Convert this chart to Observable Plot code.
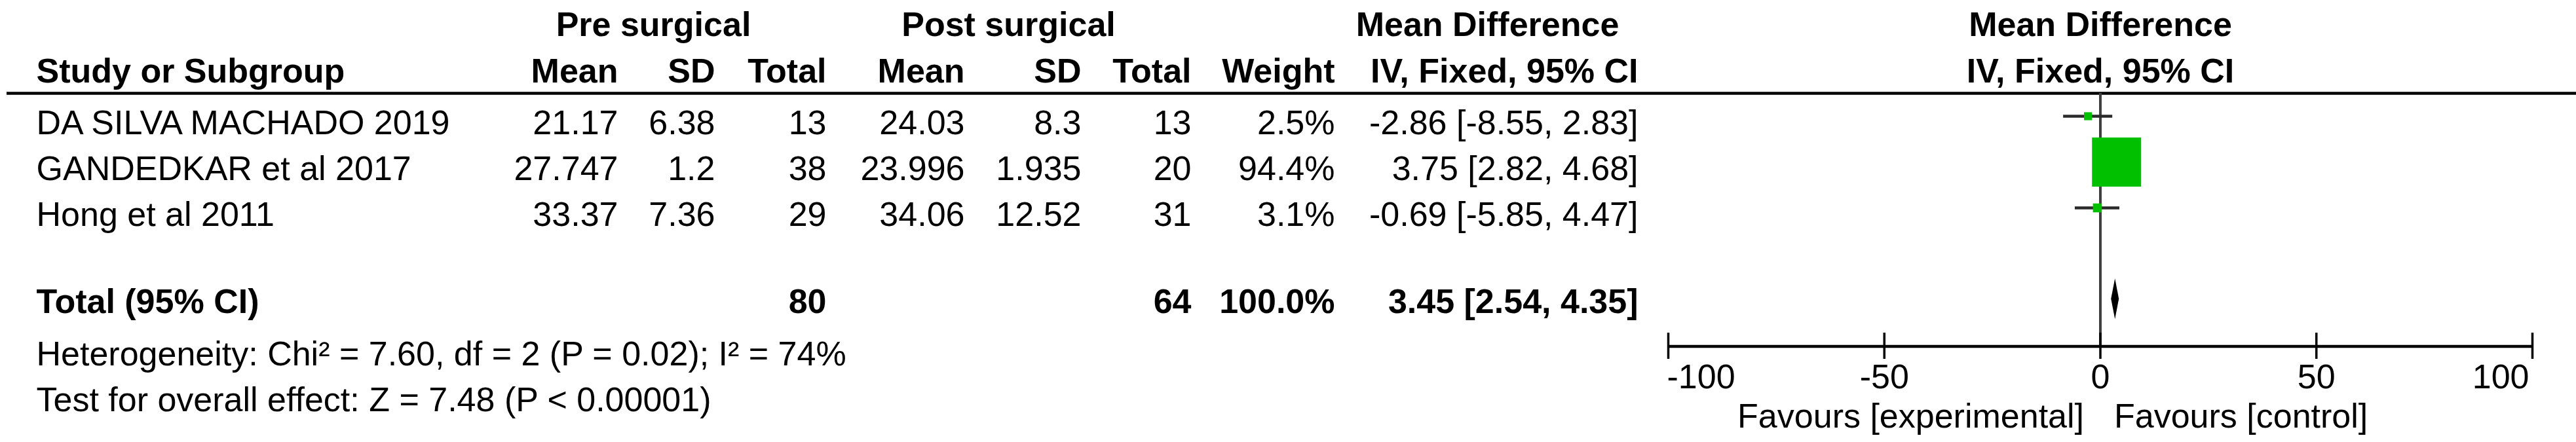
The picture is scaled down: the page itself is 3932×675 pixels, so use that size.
<!DOCTYPE html>
<html><head><meta charset="utf-8">
<script src="https://cdn.jsdelivr.net/npm/d3@7"></script>
<script src="https://cdn.jsdelivr.net/npm/@observablehq/plot@0.6"></script>
<style>
html,body{margin:0;padding:0;background:#fff;}
#wrap{display:flex;width:3932px;height:675px;overflow:hidden;background:#fff;}
#wrap svg{display:block;overflow:hidden;}
</style></head><body><div id="wrap"></div>
<script>
// ---------- data ----------
const studies   = ["DA SILVA MACHADO 2019", "GANDEDKAR et al 2017", "Hong et al 2011"];
const preMean   = [21.17, 27.747, 33.37];
const preSD     = [6.38, 1.2, 7.36];
const preN      = [13, 38, 29];
const postMean  = [24.03, 23.996, 34.06];
const postSD    = [8.3, 1.935, 12.52];
const postN     = [13, 20, 31];
const weights   = [2.5, 94.4, 3.1];
const md        = [-2.86, 3.75, -0.69];
const ciLow     = [-8.55, 2.82, -5.85];
const ciHigh    = [2.83, 4.68, 4.47];
const totalLabel = "Total (95% CI)";
const totalPreN = 80, totalPostN = 64, totalWeight = 100.0;
const totalMD = 3.45, totalLow = 2.54, totalHigh = 4.35;
const heterogeneity = "Heterogeneity: Chi\u00B2 = 7.60, df = 2 (P = 0.02); I\u00B2 = 74%";
const overallTest = "Test for overall effect: Z = 7.48 (P < 0.00001)";
const tickValues = [-100, -50, 0, 50, 100];
const favoursLeft = "Favours [experimental]";
const favoursRight = "Favours [control]";
const groupHeads = ["Pre surgical", "Post surgical", "Mean Difference"];
const colHeads = ["Study or Subgroup", "Mean", "SD", "Total", "Mean", "SD", "Total", "Weight", "IV, Fixed, 95% CI"];
const plotHeads = ["Mean Difference", "IV, Fixed, 95% CI"];

// ---------- layout (not data) ----------
const FONT = "'Liberation Sans', Arial, Helvetica, sans-serif";
const FS = 52;
const leftW = 2510, rightW = 3932 - 2510, H = 675;
const colX = {study: 55, preMean: 943, preSD: 1091, preN: 1261, postMean: 1472, postSD: 1650, postN: 1818, weight: 2037, ci: 2500};
const headX = [colX.study, colX.preMean, colX.preSD, colX.preN, colX.postMean, colX.postSD, colX.postN, colX.weight, colX.ci];
const groupX = [997, 1539, 2270];
const Y = {group: -1.743, head: -0.729, rule: -0.5, studyBase: 0.386, total: 3.99, totalBase: 4.286,
           axis: 5.021, tickTop: 4.729, tickBot: 5.3, tickLab: 5.929, het: 5.429, test: 6.429, favours: 6.786, diamondHalf: 0.443};
const yScale = {domain: [-2.5, 7], range: [2, 667], axis: null};
const GREEN = "#00c000";

const rows = studies.map((s, i) => ({
  i, study: s, preMean: preMean[i], preSD: preSD[i], preN: preN[i],
  postMean: postMean[i], postSD: postSD[i], postN: postN[i],
  weight: weights[i], md: md[i], lo: ciLow[i], hi: ciHigh[i]
}));
const ciText = (m, l, h) => `${m.toFixed(2)} [${l.toFixed(2)}, ${h.toFixed(2)}]`;
const T = {fontFamily: FONT, fontSize: FS, fill: "#000", lineAnchor: "bottom"};

// ---------- left: table ----------
const cell = (key, fmt) => Plot.text(rows, {...T, x: colX[key], y: d => d.i + Y.studyBase, text: d => fmt(d[key]), textAnchor: "end"});
const left = Plot.plot({
  width: leftW, height: H, margin: 0,
  x: {domain: [0, leftW], range: [0, leftW], axis: null},
  y: yScale,
  marks: [
    Plot.text(groupHeads, {...T, x: (d, i) => groupX[i], y: Y.group, text: d => d, fontWeight: "bold", textAnchor: "middle"}),
    Plot.text(colHeads.slice(0, 1), {...T, x: headX[0], y: Y.head, text: d => d, fontWeight: "bold", textAnchor: "start"}),
    Plot.text(colHeads.slice(1), {...T, x: (d, i) => headX[i + 1], y: Y.head, text: d => d, fontWeight: "bold", textAnchor: "end"}),
    Plot.ruleY([Y.rule], {x1: 10, x2: leftW, stroke: "#000", strokeWidth: 4.5}),
    Plot.text(rows, {...T, x: colX.study, y: d => d.i + Y.studyBase, text: "study", textAnchor: "start"}),
    cell("preMean", String), cell("preSD", String), cell("preN", String),
    cell("postMean", String), cell("postSD", String), cell("postN", String),
    cell("weight", v => v.toFixed(1) + "%"),
    Plot.text(rows, {...T, x: colX.ci, y: d => d.i + Y.studyBase, text: d => ciText(d.md, d.lo, d.hi), textAnchor: "end"}),
    Plot.text([totalLabel], {...T, x: colX.study, y: Y.totalBase, text: d => d, fontWeight: "bold", textAnchor: "start"}),
    Plot.text([
      {x: colX.preN, t: String(totalPreN)},
      {x: colX.postN, t: String(totalPostN)},
      {x: colX.weight, t: totalWeight.toFixed(1) + "%"},
      {x: colX.ci, t: ciText(totalMD, totalLow, totalHigh)}
    ], {...T, x: "x", y: Y.totalBase, text: "t", fontWeight: "bold", textAnchor: "end"}),
    Plot.text([heterogeneity], {...T, x: colX.study, y: Y.het, text: d => d, textAnchor: "start"}),
    Plot.text([overallTest], {...T, x: colX.study, y: Y.test, text: d => d, textAnchor: "start"})
  ]
});

// ---------- right: forest plot ----------
const totalDiamond = [
  {y: Y.total - Y.diamondHalf, x1: totalMD, x2: totalMD},
  {y: Y.total, x1: totalLow, x2: totalHigh},
  {y: Y.total + Y.diamondHalf, x1: totalMD, x2: totalMD}
];
const right = Plot.plot({
  width: rightW, height: H, margin: 0,
  x: {domain: [-100, 100], range: [36, 1355], axis: null},
  y: yScale,
  r: {type: "sqrt", domain: [0, 94.4], range: [0, 42.3]},
  marks: [
    Plot.text(plotHeads, {...T, x: 0, y: (d, i) => i === 0 ? Y.group : Y.head, text: d => d, fontWeight: "bold", textAnchor: "middle"}),
    Plot.ruleY([Y.rule], {x1: -130, x2: 130, stroke: "#000", strokeWidth: 4.5}),
    Plot.ruleX([0], {y1: Y.rule, y2: Y.axis, stroke: "#404040", strokeWidth: 4}),
    Plot.ruleY(rows, {y: "i", x1: "lo", x2: "hi", stroke: "#2a2a2a", strokeWidth: 4.5}),
    Plot.dot(rows, {x: "md", y: "i", r: "weight", symbol: "square", fill: GREEN, stroke: "none"}),
    Plot.areaX(totalDiamond, {y: "y", x1: "x1", x2: "x2", fill: "#000", curve: "linear"}),
    Plot.ruleY([Y.axis], {x1: tickValues[0], x2: tickValues[tickValues.length - 1], stroke: "#000", strokeWidth: 4.5}),
    Plot.ruleX(tickValues, {x: d => d, y1: Y.tickTop, y2: Y.tickBot, stroke: "#000", strokeWidth: 3.5}),
    Plot.text(tickValues.slice(0, 1), {...T, x: d => d, y: Y.tickLab, text: d => String(d), textAnchor: "start", dx: -2}),
    Plot.text(tickValues.slice(1, -1), {...T, x: d => d, y: Y.tickLab, text: d => String(d), textAnchor: "middle"}),
    Plot.text(tickValues.slice(-1), {...T, x: d => d, y: Y.tickLab, text: d => String(d), textAnchor: "end", dx: -5}),
    Plot.text([favoursLeft], {...T, x: 0, y: Y.favours, text: d => d, textAnchor: "end", dx: -25}),
    Plot.text([favoursRight], {...T, x: 0, y: Y.favours, text: d => d, textAnchor: "start", dx: 21})
  ]
});

const wrap = document.getElementById("wrap");
wrap.appendChild(left);
wrap.appendChild(right);
</script>
</body></html>
